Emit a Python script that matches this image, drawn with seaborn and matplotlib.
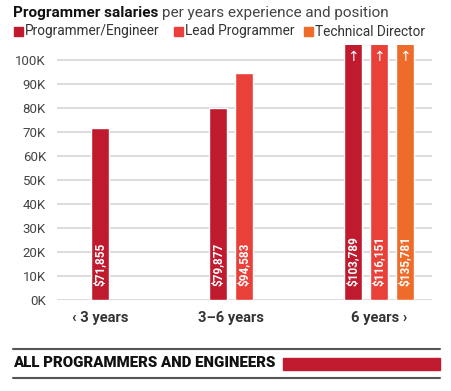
import pandas as pd
import seaborn as sns
import matplotlib.pyplot as plt
from matplotlib.patches import Rectangle
from matplotlib.lines import Line2D

# data
groups = ["\u2039 3 years", "3\u20136 years", "6 years \u203a"]
roles = ["Programmer/Engineer", "Lead Programmer", "Technical Director"]
salary_lt3 = [71855]
salary_3to6 = [79877, 94583]
salary_6plus = [103789, 116151, 135781]
colors = ["#c01a2e", "#e9403a", "#ef6b2a"]

# layout (in pixels of the 451x391 picture)
W, H = 451, 391
group_x = [100, 231, 379]
slot = 26
ymax = 106250
cap = 100000  # bars above this run off the top with an arrow

rows = []
for gx, vals in zip(group_x, [salary_lt3, salary_3to6, salary_6plus]):
    n = len(vals)
    for i, v in enumerate(vals):
        rows.append({"pos": gx + slot * (i - (n - 1) / 2), "salary": v, "role": roles[i],
                     "shown": v if v <= cap else ymax * 1.05})
df = pd.DataFrame(rows)

sns.set_style("white")
plt.rcParams["font.family"] = ["Roboto", "DejaVu Sans"]

fig = plt.figure(figsize=(W / 100, H / 100), dpi=100)
ax = fig.add_axes([57 / W, (H - 300) / H, (432 - 57) / W, (300 - 45) / H])

sns.barplot(data=df, x="pos", y="shown", hue="role", hue_order=roles, palette=colors,
            native_scale=True, dodge=False, width=18 / slot, saturation=1,
            errorbar=None, legend=False, ax=ax, zorder=3)

ax.set_ylim(0, ymax)
ax.set_xlim(57, 432)
ax.set_yticks(range(0, 100001, 10000))
ax.set_yticklabels([f"{t // 1000}K" for t in range(0, 100001, 10000)], fontsize=9.5, color="#444444")
ax.set_xticks(group_x)
ax.set_xticklabels(groups, fontsize=10.5, color="#333333", fontweight="bold")
ax.tick_params(length=0)
ax.tick_params(axis="y", pad=8)
ax.tick_params(axis="x", pad=8)
ax.set_xlabel("")
ax.set_ylabel("")
ax.yaxis.grid(True, color="#d6d6d6", lw=1.2)
ax.set_axisbelow(True)
for s in ax.spines.values():
    s.set_visible(False)

# value labels and arrows for capped bars
for _, r in df.iterrows():
    ax.text(r["pos"], 6000, f"${r['salary']:,}", rotation=90, ha="center", va="bottom",
            color="white", fontsize=8.5, fontweight="bold", zorder=4)
    if r["salary"] > cap:
        ax.text(r["pos"], ymax - 5000, "\u2191", ha="center", va="center",
                color="white", fontsize=10, zorder=4)

# title
renderer = fig.canvas.get_renderer()
t1 = fig.text(13 / W, 1 - 13 / H, "Programmer salaries", fontsize=11, fontweight="bold",
              color="#111111", va="center")
bb = t1.get_window_extent(renderer)
fig.text(bb.x1 / W + 4 / W, 1 - 13 / H, "per years experience and position", fontsize=11,
         color="#444444", va="center")

# legend
leg_x = [14, 174, 304]
for lx, lab, c in zip(leg_x, roles, colors):
    fig.patches.append(Rectangle((lx / W, 1 - 36 / H), 9 / W, 9 / H, color=c,
                                 transform=fig.transFigure, figure=fig))
    fig.text((lx + 11) / W, 1 - 31.5 / H, lab, fontsize=9.8, color="#333333", va="center")

# bottom block
for yy in [349, 378]:
    fig.add_artist(Line2D([13 / W, 440 / W], [1 - yy / H, 1 - yy / H], color="#555555", lw=1.5))
fig.text(13 / W, 1 - 363 / H, "ALL PROGRAMMERS AND ENGINEERS", fontsize=10.8, fontweight="heavy",
         color="#111111", va="center")
fig.patches.append(Rectangle((283 / W, 1 - 370 / H), 157 / W, 12 / H, color=colors[0],
                             transform=fig.transFigure, figure=fig))

fig.savefig("out.png", dpi=100, facecolor="white")
